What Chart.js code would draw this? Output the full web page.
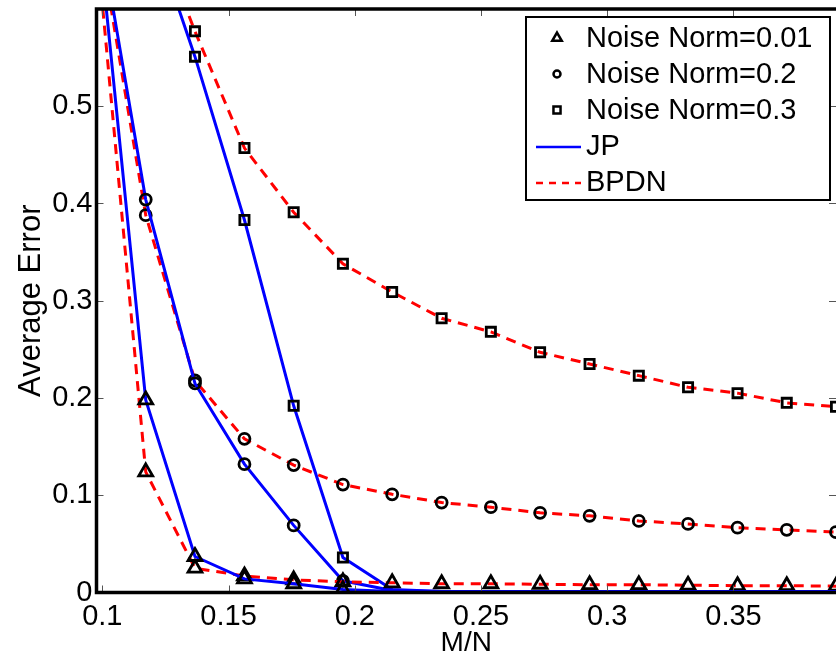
<!DOCTYPE html>
<html>
<head>
<meta charset="utf-8">
<script src="https://cdn.jsdelivr.net/npm/chart.js@4.4.0/dist/chart.umd.min.js"></script>
<style>
  html, body { margin: 0; padding: 0; background: #fff; }
  #wrap { width: 836px; height: 656px; }
</style>
</head>
<body>
<div id="wrap"><canvas id="chart" width="836" height="656"></canvas></div>
<script>
// M/N values (M = 25..100 step 5, N = 256)
const mOverN = [0.0977, 0.1172, 0.1367, 0.1563, 0.1758, 0.1953, 0.2148, 0.2344,
                0.2539, 0.2734, 0.2930, 0.3125, 0.3320, 0.3516, 0.3711, 0.3906];

// average error
const jp001   = [0.70, 0.198, 0.037, 0.014, 0.009, 0.003, 0.001, 0.001, 0.001, 0.001, 0.001, 0.001, 0.001, 0.001, 0.001, 0.001];
const bpdn001 = [0.67, 0.124, 0.025, 0.017, 0.013, 0.011, 0.010, 0.009, 0.009, 0.0085, 0.008, 0.008, 0.0075, 0.007, 0.007, 0.0065];
const jp02    = [0.70, 0.404, 0.215, 0.132, 0.069, 0.012, 0.002, 0.001, 0.001, 0.001, 0.001, 0.001, 0.001, 0.001, 0.001, 0.001];
const bpdn02  = [0.69, 0.388, 0.218, 0.158, 0.131, 0.111, 0.101, 0.0925, 0.0877, 0.0819, 0.0788, 0.0736, 0.0705, 0.0667, 0.0644, 0.062];
const jp03    = [0.70, 0.70, 0.551, 0.383, 0.192, 0.036, 0.003, 0.001, 0.001, 0.001, 0.001, 0.001, 0.001, 0.001, 0.001, 0.001];
const bpdn03  = [0.70, 0.708, 0.577, 0.457, 0.391, 0.338, 0.309, 0.282, 0.268, 0.247, 0.235, 0.223, 0.211, 0.205, 0.195, 0.191];

const xTicks = [0.1, 0.15, 0.2, 0.25, 0.3, 0.35];
const yTicks = [0, 0.1, 0.2, 0.3, 0.4, 0.5];
const legendLabels = ['Noise Norm=0.01', 'Noise Norm=0.2', 'Noise Norm=0.3', 'JP', 'BPDN'];

const BLUE = '#0000ff';
const RED = '#ff0000';
const FONT = 'Liberation Sans, Arial, sans-serif';
const JP_LAST_MARKER = 5; // JP markers vanish into the axis after this index

function toPoints(values) {
    return values.map((v, i) => ({x: mOverN[i], y: v}));
}

function jpSeries(label, values, style, radius) {
    return {
        label: label,
        data: toPoints(values),
        borderColor: BLUE,
        borderWidth: 3,
        pointStyle: style,
        pointRadius: ctx => ctx.dataIndex > JP_LAST_MARKER ? 0 : radius,
        pointBorderColor: '#000',
        pointBackgroundColor: 'rgba(0,0,0,0)',
        pointBorderWidth: 2.8,
        tension: 0
    };
}

function bpdnSeries(label, values, style, radius) {
    return {
        label: label,
        data: toPoints(values),
        borderColor: RED,
        borderWidth: 3,
        borderDash: [10, 7],
        pointStyle: style,
        pointRadius: radius,
        pointBorderColor: '#000',
        pointBackgroundColor: 'rgba(0,0,0,0)',
        pointBorderWidth: 2.8,
        tension: 0
    };
}

// frame, inward tick marks and the boxed legend
const matlabLook = {
    id: 'matlabLook',
    afterDraw(chart) {
        const ctx = chart.ctx;
        const {left, right, top, bottom} = chart.chartArea;
        const xs = chart.scales.x, ys = chart.scales.y;

        ctx.save();
        ctx.strokeStyle = '#555';
        ctx.lineWidth = 1;
        ctx.beginPath();
        xTicks.forEach(v => {
            const px = Math.round(xs.getPixelForValue(v)) + 0.5;
            ctx.moveTo(px, bottom); ctx.lineTo(px, bottom - 7);
            ctx.moveTo(px, top); ctx.lineTo(px, top + 7);
        });
        yTicks.forEach(v => {
            const py = Math.round(ys.getPixelForValue(v)) + 0.5;
            ctx.moveTo(left, py); ctx.lineTo(left + 7, py);
            ctx.moveTo(right, py); ctx.lineTo(right - 7, py);
        });
        ctx.stroke();

        ctx.strokeStyle = '#000';
        ctx.lineWidth = 3.5;
        ctx.beginPath();
        ctx.moveTo(right + 5, top);
        ctx.lineTo(left, top);
        ctx.lineTo(left, bottom);
        ctx.lineTo(right + 5, bottom);
        ctx.stroke();

        // legend
        const bx = 526, by = 17, bw = 304, bh = 183;
        ctx.fillStyle = '#fff';
        ctx.fillRect(bx, by, bw, bh);
        ctx.lineWidth = 2;
        ctx.strokeRect(bx, by, bw, bh);

        const styles = ['triangle', 'circle', 'rect'];
        const radii = [5.5, 3.5, 5];
        ctx.font = '29px ' + FONT;
        ctx.textBaseline = 'middle';
        legendLabels.forEach((text, i) => {
            const cy = by + 21 + i * 36;
            ctx.save();
            if (i < 3) {
                ctx.strokeStyle = '#000';
                ctx.fillStyle = '#fff';
                ctx.lineWidth = 2.5;
                Chart.helpers.drawPoint(ctx, {pointStyle: styles[i], radius: radii[i], borderWidth: 2.5}, 557, cy);
            } else {
                ctx.strokeStyle = i === 3 ? BLUE : RED;
                ctx.lineWidth = 2.5;
                ctx.setLineDash(i === 3 ? [] : [7, 6]);
                ctx.beginPath();
                ctx.moveTo(536, cy + 1);
                ctx.lineTo(581, cy + 1);
                ctx.stroke();
            }
            ctx.restore();
            ctx.fillStyle = '#000';
            ctx.fillText(text, 586, cy + 1);
        });
        ctx.restore();
    }
};

new Chart(document.getElementById('chart').getContext('2d'), {
    type: 'line',
    data: {
        datasets: [
            jpSeries('JP, Noise Norm=0.01', jp001, 'triangle', 8),
            bpdnSeries('BPDN, Noise Norm=0.01', bpdn001, 'triangle', 8),
            jpSeries('JP, Noise Norm=0.2', jp02, 'circle', 5.5),
            bpdnSeries('BPDN, Noise Norm=0.2', bpdn02, 'circle', 5.5),
            jpSeries('JP, Noise Norm=0.3', jp03, 'rect', 6.5),
            bpdnSeries('BPDN, Noise Norm=0.3', bpdn03, 'rect', 6.5)
        ]
    },
    options: {
        responsive: false,
        animation: false,
        layout: {autoPadding: false, padding: {top: 9, right: 0, left: 0, bottom: 0}},
        plugins: {
            legend: {display: false},
            tooltip: {enabled: false}
        },
        scales: {
            x: {
                type: 'linear',
                min: mOverN[0],
                max: mOverN[mOverN.length - 1],
                grid: {display: false, drawTicks: false},
                border: {display: false},
                afterBuildTicks: s => { s.ticks = xTicks.map(v => ({value: v})); },
                afterFit: s => { s.height = 63.5; s.paddingLeft = 0; s.paddingRight = 0; },
                ticks: {
                    font: {family: FONT, size: 29},
                    color: '#000',
                    padding: 7,
                    maxRotation: 0,
                    autoSkip: false,
                    callback: v => String(v)
                },
                title: {
                    display: true,
                    text: 'M/N',
                    font: {family: FONT, size: 28},
                    color: '#000',
                    padding: {top: 0, bottom: -4}
                }
            },
            y: {
                min: 0,
                max: 0.6,
                grid: {display: false, drawTicks: false},
                border: {display: false},
                afterBuildTicks: s => { s.ticks = yTicks.map(v => ({value: v})); },
                afterFit: s => { s.width = 96.5; s.paddingTop = 0; s.paddingBottom = 0; },
                ticks: {
                    font: {family: FONT, size: 29},
                    color: '#000',
                    padding: 4,
                    callback: v => String(v)
                },
                title: {
                    display: true,
                    text: 'Average Error',
                    font: {family: FONT, size: 31},
                    color: '#000',
                    padding: {top: 13, bottom: 0}
                }
            }
        }
    },
    plugins: [matlabLook]
});
</script>
</body>
</html>
